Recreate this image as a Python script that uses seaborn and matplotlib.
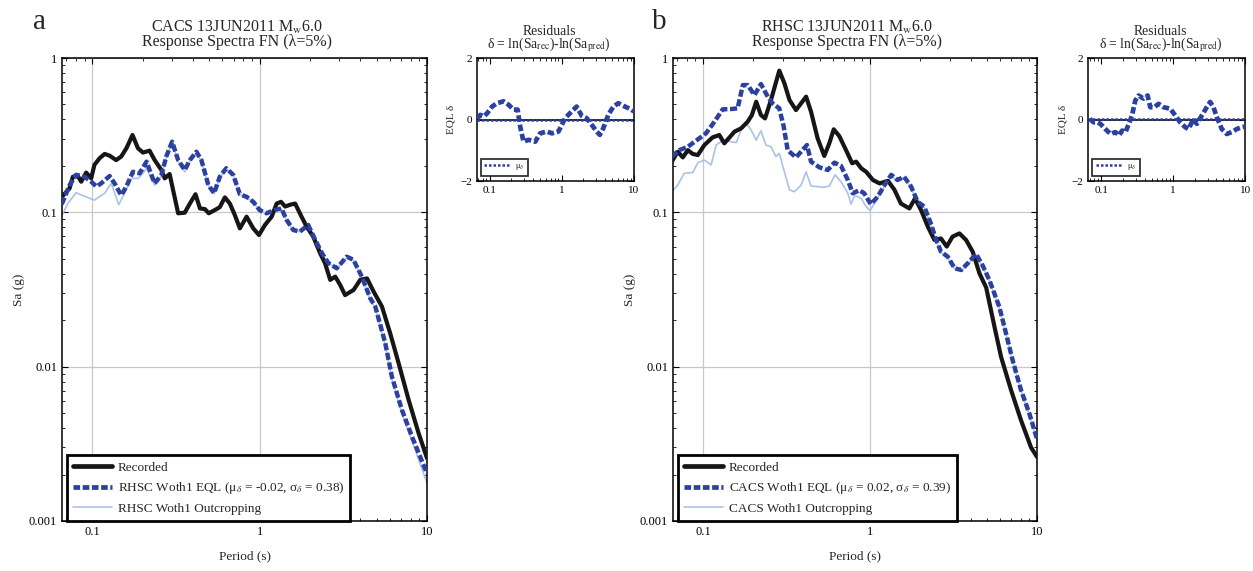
import numpy as np
import pandas as pd
import matplotlib
matplotlib.use("Agg")
import matplotlib.pyplot as plt
import matplotlib.ticker as mticker
from matplotlib.lines import Line2D
import seaborn as sns

# ---------------- data ----------------
# Panel a: recorded at CACS, predicted from RHSC
cacs_rec_T = [0.0658, 0.0732, 0.0766, 0.082, 0.0859, 0.092, 0.0986, 0.103, 0.1106, 0.1186, 0.127, 0.139,
              0.149, 0.160, 0.174, 0.1876, 0.201, 0.220, 0.236, 0.259, 0.271, 0.290, 0.326, 0.357, 0.383,
              0.414, 0.440, 0.471, 0.497, 0.540, 0.578, 0.620, 0.664, 0.711, 0.762, 0.836, 0.916, 0.991,
              1.076, 1.18, 1.264, 1.343, 1.42, 1.52, 1.63, 1.78, 1.91, 2.09, 2.30, 2.46, 2.64, 2.83, 3.03,
              3.24, 3.64, 3.99, 4.38, 4.80, 5.38, 6.03, 6.77, 7.76, 8.91, 10.0]
cacs_rec_sa = [0.126, 0.143, 0.170, 0.172, 0.158, 0.181, 0.166, 0.203, 0.224, 0.239, 0.233, 0.218,
               0.230, 0.260, 0.317, 0.260, 0.244, 0.251, 0.218, 0.188, 0.166, 0.177, 0.0986, 0.0995, 0.114,
               0.131, 0.106, 0.105, 0.0986, 0.1035, 0.108, 0.125, 0.114, 0.096, 0.0787, 0.0937, 0.0787, 0.0713,
               0.0828, 0.0937, 0.114, 0.117, 0.109, 0.112, 0.114, 0.0937, 0.0807, 0.0696, 0.0542, 0.0468,
               0.0365, 0.0383, 0.0338, 0.0291, 0.0314, 0.0365, 0.0373, 0.0306, 0.0245, 0.0164, 0.0105,
               0.0061, 0.0037, 0.00255]

rhsc_eql_T = [0.0658, 0.0732, 0.080, 0.090, 0.0986, 0.106, 0.113, 0.127, 0.136, 0.149, 0.160, 0.175, 0.192,
              0.211, 0.236, 0.259, 0.277, 0.300, 0.326, 0.357, 0.383, 0.419, 0.449, 0.494, 0.535, 0.578,
              0.632, 0.695, 0.762, 0.836, 0.916, 1.0, 1.10, 1.23, 1.35, 1.45, 1.59, 1.74, 1.95, 2.15, 2.36,
              2.58, 2.89, 3.31, 3.63, 4.08, 4.58, 4.91, 5.63, 6.17, 7.08, 8.13, 10.0]
rhsc_eql_sa = [0.113, 0.150, 0.175, 0.170, 0.158, 0.147, 0.154, 0.172, 0.154, 0.129, 0.147, 0.183, 0.179,
               0.213, 0.154, 0.175, 0.230, 0.287, 0.218, 0.188, 0.218, 0.247, 0.218, 0.150, 0.133, 0.170,
               0.193, 0.175, 0.131, 0.126, 0.117, 0.1035, 0.0986, 0.1035, 0.106, 0.0892, 0.0768, 0.075,
               0.0828, 0.0662, 0.0542, 0.0468, 0.0434, 0.0516, 0.0493, 0.0383, 0.0277, 0.0245, 0.0142,
               0.0086, 0.00524, 0.00352, 0.00203]

rhsc_out_T = [0.0658, 0.0715, 0.080, 0.092, 0.103, 0.1186, 0.130, 0.144, 0.156, 0.171, 0.188, 0.201, 0.211,
              0.236, 0.259, 0.277, 0.300, 0.326, 0.357, 0.383, 0.419, 0.449, 0.494, 0.535, 0.578, 0.632,
              0.695, 0.762, 0.836, 0.916, 1.0, 1.10, 1.23, 1.35, 1.45, 1.59, 1.74, 1.95, 2.15, 2.36, 2.58,
              2.89, 3.31, 3.63, 4.08, 4.58, 4.91, 5.63, 6.17, 7.08, 8.13, 10.0]
rhsc_out_sa = [0.095, 0.114, 0.134, 0.126, 0.120, 0.133, 0.154, 0.112, 0.133, 0.166, 0.166, 0.179, 0.193,
               0.150, 0.172, 0.226, 0.282, 0.214, 0.183, 0.214, 0.243, 0.215, 0.148, 0.132, 0.168, 0.191,
               0.173, 0.130, 0.125, 0.116, 0.103, 0.098, 0.103, 0.105, 0.089, 0.076, 0.075, 0.082, 0.066,
               0.054, 0.047, 0.043, 0.051, 0.049, 0.038, 0.027, 0.024, 0.0138, 0.0083, 0.0050, 0.0033,
               0.00176]

cacs_res_T = [0.068, 0.0743, 0.083, 0.092, 0.108, 0.126, 0.156, 0.183, 0.214, 0.244, 0.265, 0.295, 0.346,
              0.428, 0.50, 0.62, 0.73, 0.90, 1.11, 1.37, 1.61, 1.89, 2.22, 2.60, 3.04, 3.37, 3.77, 4.41,
              5.19, 6.08, 7.52, 9.28, 10.0]
cacs_res = [0.04, 0.15, 0.10, 0.20, 0.42, 0.53, 0.59, 0.48, 0.32, 0.32, -0.23, -0.72, -0.66, -0.72, -0.45,
            -0.39, -0.45, -0.39, 0.04, 0.26, 0.42, 0.12, 0.04, -0.17, -0.39, -0.50, -0.28, 0.15, 0.42, 0.53,
            0.42, 0.32, 0.26]
cacs_mu, cacs_sigma = -0.02, 0.38

# Panel b: recorded at RHSC, predicted from CACS
rhsc_rec_T = [0.0649, 0.0705, 0.0756, 0.081, 0.0867, 0.0929, 0.1018, 0.114, 0.125, 0.134, 0.144, 0.154,
              0.169, 0.185, 0.196, 0.208, 0.222, 0.235, 0.255, 0.286, 0.307, 0.329, 0.360, 0.386, 0.414,
              0.443, 0.485, 0.532, 0.570, 0.606, 0.654, 0.718, 0.781, 0.826, 0.885, 0.948, 1.04, 1.14,
              1.28, 1.40, 1.53, 1.72, 1.86, 2.02, 2.22, 2.43, 2.66, 2.88, 3.12, 3.43, 3.76, 4.12, 4.52,
              4.96, 5.56, 6.09, 6.98, 8.02, 9.21, 10.0]
rhsc_rec_sa = [0.213, 0.247, 0.227, 0.253, 0.239, 0.235, 0.273, 0.306, 0.317, 0.280, 0.306, 0.333,
               0.350, 0.387, 0.427, 0.521, 0.427, 0.406, 0.535, 0.828, 0.685, 0.535, 0.460, 0.508, 0.562,
               0.449, 0.302, 0.232, 0.280, 0.345, 0.312, 0.253, 0.208, 0.213, 0.193, 0.183, 0.162, 0.154,
               0.160, 0.140, 0.114, 0.106, 0.123, 0.1035, 0.0807, 0.0662, 0.0677, 0.060, 0.0696, 0.073,
               0.0662, 0.0556, 0.0403, 0.0326, 0.0182, 0.0116, 0.0071, 0.0045, 0.0030, 0.0026]

cacs_eql_T = [0.0649, 0.0721, 0.081, 0.093, 0.104, 0.117, 0.131, 0.147, 0.161, 0.173, 0.185, 0.203, 0.222,
              0.244, 0.261, 0.286, 0.304, 0.321, 0.360, 0.386, 0.419, 0.443, 0.496, 0.558, 0.612, 0.670,
              0.736, 0.787, 0.862, 0.922, 1.01, 1.11, 1.22, 1.34, 1.46, 1.60, 1.76, 1.93, 2.11, 2.31, 2.49,
              2.66, 2.92, 3.21, 3.52, 3.85, 4.32, 4.70, 5.18, 5.94, 6.37, 7.15, 8.02, 8.99, 10.0]
cacs_eql_sa = [0.230, 0.253, 0.266, 0.297, 0.325, 0.387, 0.465, 0.467, 0.472, 0.668, 0.668, 0.575, 0.678,
               0.561, 0.508, 0.472, 0.359, 0.253, 0.227, 0.247, 0.273, 0.213, 0.196, 0.188, 0.210, 0.200,
               0.162, 0.133, 0.139, 0.133, 0.113, 0.126, 0.150, 0.175, 0.162, 0.170, 0.147, 0.117, 0.109,
               0.085, 0.0662, 0.0556, 0.0516, 0.0434, 0.0423, 0.0468, 0.0537, 0.0458, 0.0365, 0.0245,
               0.0182, 0.011, 0.00706, 0.00499, 0.0034]

cacs_out_T = [0.0649, 0.0705, 0.077, 0.0867, 0.093, 0.1018, 0.1117, 0.1197, 0.131, 0.144, 0.158, 0.173,
              0.183, 0.194, 0.208, 0.222, 0.238, 0.255, 0.273, 0.286, 0.307, 0.329, 0.352, 0.386, 0.414,
              0.443, 0.485, 0.527, 0.570, 0.617, 0.670, 0.736, 0.769, 0.81, 0.885, 0.948, 1.0, 1.11, 1.22,
              1.34, 1.46, 1.60, 1.76, 1.93, 2.11, 2.31, 2.49, 2.66, 2.92, 3.21, 3.52, 3.85, 4.32, 4.70,
              5.18, 5.94, 6.37, 7.15, 8.02, 8.99, 10.0]
cacs_out_sa = [0.136, 0.150, 0.179, 0.181, 0.210, 0.218, 0.203, 0.273, 0.291, 0.288, 0.283, 0.368,
               0.373, 0.341, 0.294, 0.338, 0.273, 0.266, 0.230, 0.241, 0.183, 0.140, 0.136, 0.150, 0.183,
               0.148, 0.147, 0.145, 0.148, 0.175, 0.158, 0.133, 0.113, 0.129, 0.123, 0.109, 0.1025, 0.124,
               0.147, 0.172, 0.160, 0.167, 0.145, 0.115, 0.107, 0.084, 0.065, 0.055, 0.051, 0.043, 0.042,
               0.046, 0.053, 0.045, 0.036, 0.0242, 0.018, 0.0109, 0.0070, 0.0049, 0.0034]

rhsc_res_T = [0.069, 0.078, 0.087, 0.097, 0.114, 0.134, 0.157, 0.175, 0.195, 0.217, 0.241, 0.267, 0.297,
              0.330, 0.387, 0.44, 0.48, 0.545, 0.626, 0.734, 0.909, 1.07, 1.25, 1.47, 1.63, 1.92, 2.13,
              2.50, 2.93, 3.26, 3.63, 4.04, 4.74, 5.56, 6.52, 7.65, 8.97, 10.0]
rhsc_res = [0.02, -0.09, -0.09, -0.14, -0.31, -0.47, -0.41, -0.52, -0.36, -0.41, -0.14, 0.13, 0.62, 0.78,
            0.68, 0.78, 0.40, 0.40, 0.51, 0.40, 0.35, 0.13, -0.09, -0.25, -0.31, 0.02, -0.14, 0.13, 0.40,
            0.57, 0.40, 0.08, -0.31, -0.47, -0.41, -0.31, -0.25, -0.23]
rhsc_mu, rhsc_sigma = 0.02, 0.39

# ---------------- style ----------------
sns.set_theme(style="ticks")
plt.rcParams["font.family"] = ["Liberation Serif", "DejaVu Serif"]
plt.rcParams["mathtext.fontset"] = "stix"
plt.rcParams["axes.linewidth"] = 1.1

C_REC = "#161616"
C_EQL = "#2c40a0"
C_OUT = "#a9c3e6"
XLIM = (0.066, 10.0)

fmt = mticker.FuncFormatter(lambda v, _: f"{v:g}")

fig = plt.figure(figsize=(12.53, 5.71), dpi=100)


def style_log_axis(ax, labelsize):
    ax.set_xscale("log")
    ax.tick_params(which="both", direction="in", top=True, right=True,
                   labelsize=labelsize, colors="black")
    ax.tick_params(which="major", length=4, width=0.8)
    ax.tick_params(which="minor", length=2.2, width=0.6)
    ax.xaxis.set_major_formatter(fmt)
    ax.xaxis.set_minor_formatter(mticker.NullFormatter())
    for s in ax.spines.values():
        s.set_color("black")


def spectra_panel(rect, title, rT, rS, eT, eS, oT, oS, site, mu, sigma):
    ax = fig.add_axes(rect)
    sns.lineplot(x=oT, y=oS, ax=ax, color=C_OUT, lw=1.2, label=f"{site} Woth1 Outcropping", zorder=2)
    sns.lineplot(x=rT, y=rS, ax=ax, color=C_REC, lw=3.0, label="Recorded", zorder=3)
    sns.lineplot(x=eT, y=eS, ax=ax, color=C_EQL, lw=3.2, label="eql", zorder=4,
                 linestyle=(0, (1.6, 0.6)), dash_capstyle="butt")
    style_log_axis(ax, 9)
    ax.set_yscale("log")
    ax.yaxis.set_major_formatter(fmt)
    ax.yaxis.set_minor_formatter(mticker.NullFormatter())
    ax.set_xlim(*XLIM)
    ax.set_ylim(0.001, 1.0)
    ax.grid(True, which="major", color="#c8c8c8", lw=0.9)
    ax.set_xlabel("Period (s)", fontsize=9.5, labelpad=9)
    ax.set_ylabel("Sa (g)", fontsize=9.5, labelpad=3)
    ax.set_title(title, fontsize=11.5, x=0.479, pad=9, linespacing=0.8)
    handles = [
        Line2D([], [], color=C_REC, lw=3.4),
        Line2D([], [], color=C_EQL, lw=3.4, linestyle=(0, (1.4, 0.55)), dash_capstyle="butt"),
        Line2D([], [], color=C_OUT, lw=1.2),
    ]
    labels = [
        "Recorded",
        rf"{site} Woth1 EQL (μ$_\delta$ = {mu:.2f}, σ$_\delta$ = {sigma:.2f})",
        f"{site} Woth1 Outcropping",
    ]
    leg = ax.legend(handles, labels, loc="lower left", bbox_to_anchor=(0.013, 0.0),
                    borderaxespad=0.0, fontsize=9.5, frameon=True, fancybox=False,
                    handlelength=3.0, handletextpad=0.4, labelspacing=0.5,
                    borderpad=0.45)
    leg.get_frame().set_edgecolor("black")
    leg.get_frame().set_linewidth(2.0)
    leg.get_frame().set_alpha(1)
    return ax


def residual_panel(rect, T, res, mu):
    ax = fig.add_axes(rect)
    ax.axhline(0, color="black", lw=1.2, zorder=2)
    ax.axhline(mu, color=C_EQL, lw=1.8, linestyle=(0, (1, 0.8)), zorder=3)
    sns.lineplot(x=T, y=res, ax=ax, color=C_EQL, lw=3.4, linestyle=(0, (1.4, 0.6)),
                 dash_capstyle="butt", zorder=4)
    style_log_axis(ax, 8)
    ax.set_xlim(*XLIM)
    ax.set_ylim(-2, 2)
    ax.set_yticks([-2, 0, 2])
    ax.yaxis.set_minor_locator(mticker.NullLocator())
    ax.set_ylabel("EQL δ", fontsize=8, labelpad=3)
    ax.set_title("Residuals\n" + r"δ = ln(Sa$_\mathrm{rec}$)-ln(Sa$_\mathrm{pred}$)",
                 fontsize=9.8, x=0.46, pad=7, linespacing=0.8)
    h = [Line2D([], [], color=C_EQL, lw=1.8, linestyle=(0, (1, 0.8)))]
    leg = ax.legend(h, [r"μ$_\delta$"], loc="lower left", bbox_to_anchor=(0.025, 0.04),
                    borderaxespad=0.0, fontsize=6, frameon=True, fancybox=False,
                    handlelength=3.2, handletextpad=0.5, borderpad=0.45)
    leg.get_frame().set_edgecolor("black")
    leg.get_frame().set_linewidth(1.3)
    return ax


spectra_panel([0.0495, 0.0876, 0.2913, 0.8108],
              r"CACS 13JUN2011 M$_\mathrm{w}$6.0" + "\nResponse Spectra FN (λ=5%)",
              cacs_rec_T, cacs_rec_sa, rhsc_eql_T, rhsc_eql_sa, rhsc_out_T, rhsc_out_sa,
              "RHSC", cacs_mu, cacs_sigma)
residual_panel([0.3804, 0.683, 0.1255, 0.2154], cacs_res_T, cacs_res, cacs_mu)

spectra_panel([0.5371, 0.0876, 0.2905, 0.8108],
              r"RHSC 13JUN2011 M$_\mathrm{w}$6.0" + "\nResponse Spectra FN (λ=5%)",
              rhsc_rec_T, rhsc_rec_sa, cacs_eql_T, cacs_eql_sa, cacs_out_T, cacs_out_sa,
              "CACS", rhsc_mu, rhsc_sigma)
residual_panel([0.8686, 0.683, 0.1251, 0.2154], rhsc_res_T, rhsc_res, rhsc_mu)

fig.text(0.026, 0.962, "a", fontsize=21, va="center", ha="left")
fig.text(0.5205, 0.962, "b", fontsize=21, va="center", ha="left")

fig.savefig("out.png", dpi=100, facecolor="white")
